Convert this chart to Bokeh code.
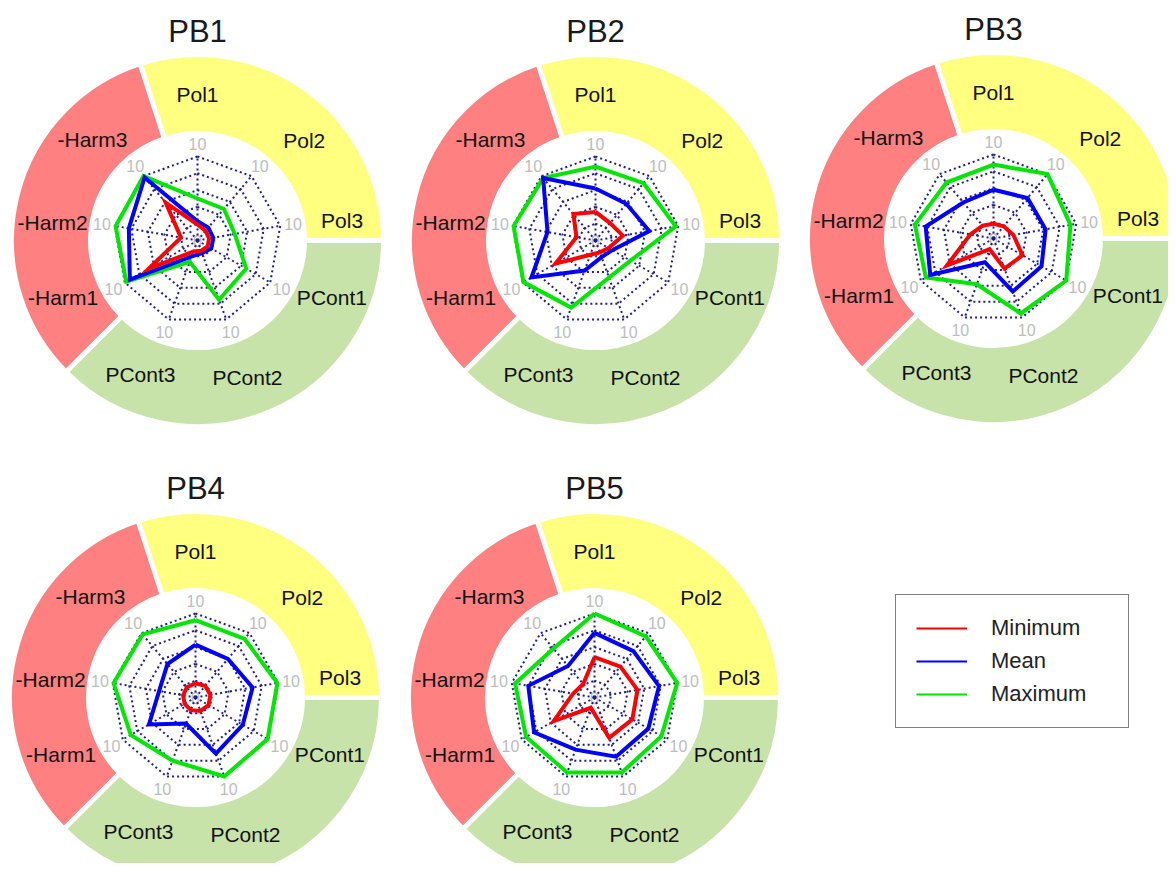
import numpy as np
from bokeh.plotting import figure
from bokeh.models import Range1d, Legend, LegendItem
from bokeh.core.properties import value
from bokeh.embed import file_html
from bokeh.resources import INLINE

# ---------------- data ----------------
categories = ["Pol1", "Pol2", "Pol3", "PCont1", "PCont2", "PCont3",
              "-Harm1", "-Harm2", "-Harm3"]
panel_names = ["PB1", "PB2", "PB3", "PB4", "PB5"]
series_names = ["Minimum", "Mean", "Maximum"]
series_colors = ["#FF0000", "#0000FF", "#00E600"]

group_names = ["Pol", "-Harm", "PCont"]
group_share = [30.0, 32.5, 37.5]          # % of ring, counter-clockwise from 3 o'clock
group_colors = ["#FFFF80", "#FF8080", "#C8E3A9"]

ring_ticks = [2, 4, 6, 8, 10]
axis_max = 10
spoke_label = "10"
center_label = "0"

pb1_min = [1.9, 1.5, 1.4, 1.4, 1.3, 1.4, 6.7, 2.0, 5.9]
pb1_mean = [2.3, 2.0, 1.9, 1.9, 1.6, 2.0, 9.3, 8.3, 9.8]
pb1_max = [5.0, 4.9, 4.5, 6.7, 7.5, 2.7, 9.8, 9.9, 10.0]

pb2_min = [3.4, 2.7, 3.3, 1.8, 1.5, 1.8, 5.5, 2.3, 4.1]
pb2_mean = [6.2, 5.7, 6.5, 2.3, 2.1, 3.8, 8.8, 5.8, 9.7]
pb2_max = [8.8, 8.9, 9.7, 4.8, 4.7, 8.5, 9.9, 9.9, 9.7]

pb3_min = [1.75, 1.9, 2.4, 4.0, 3.8, 1.35, 6.4, 2.8, 2.0]
pb3_mean = [5.8, 6.3, 6.3, 6.6, 6.7, 3.0, 8.7, 8.2, 5.6]
pb3_max = [8.8, 10.0, 9.3, 10.0, 9.5, 5.8, 9.3, 9.5, 8.7]

pb4_min = [1.7, 1.8, 1.8, 1.8, 1.7, 1.6, 1.5, 1.5, 1.6]
pb4_mean = [6.3, 6.0, 6.9, 6.5, 7.1, 3.3, 6.4, 4.4, 5.2]
pb4_max = [9.2, 9.1, 9.9, 9.9, 10.0, 8.0, 8.9, 9.9, 9.8]

pb5_min = [4.8, 4.8, 5.2, 5.2, 5.1, 1.3, 5.6, 2.6, 2.1]
pb5_mean = [7.7, 7.2, 7.8, 7.4, 7.5, 6.6, 8.3, 8.0, 4.9]
pb5_max = [10.0, 9.5, 10.0, 9.2, 9.5, 9.5, 9.4, 9.6, 7.6]

panel_data = {
    "PB1": (pb1_min, pb1_mean, pb1_max),
    "PB2": (pb2_min, pb2_mean, pb2_max),
    "PB3": (pb3_min, pb3_mean, pb3_max),
    "PB4": (pb4_min, pb4_mean, pb4_max),
    "PB5": (pb5_min, pb5_mean, pb5_max),
}

# ---------------- layout (screen pixels of the page) ----------------
W, H = 1168, 863
PAGE_H = 871
panel_centers = {"PB1": (197, 240), "PB2": (595, 240), "PB3": (993, 238),
                 "PB4": (195, 697), "PB5": (594, 697)}
R_IN, R_OUT = 107, 186          # donut radii
R_GRID = 84                     # radius of value 10
R_TICKLBL = 97
R_CATLBL = 146
cat_label_angles = [90, 43, 8, -23, -70, -113, -157, 173, 136]
spoke_angles = [90 - 40 * k for k in range(len(categories))]
FONT = "Liberation Sans"
GRID_COLOR = "#1E1E8A"


def Y(sy):
    return PAGE_H - sy


p = figure(width=W, height=H, x_range=Range1d(0, W), y_range=Range1d(PAGE_H - H, PAGE_H),
           output_backend="svg", toolbar_location=None, min_border=0)
p.axis.visible = False
p.xgrid.visible = False
p.ygrid.visible = False
p.outline_line_color = None
p.background_fill_color = "white"
p.border_fill_color = "white"

theta = np.deg2rad(spoke_angles)

for name in panel_names:
    sx, sy = panel_centers[name]
    cx, cy = sx, Y(sy)

    # donut ring
    edges = np.concatenate([[0.0], np.cumsum(group_share)]) / 100.0 * 2 * np.pi
    p.annular_wedge(x=[cx] * 3, y=[cy] * 3, inner_radius=R_IN, outer_radius=R_OUT,
                    start_angle=list(edges[:-1]), end_angle=list(edges[1:]),
                    fill_color=group_colors, line_color="white", line_width=5)

    # category labels
    la = np.deg2rad(cat_label_angles)
    p.text(x=list(cx + R_CATLBL * np.cos(la)), y=list(cy + R_CATLBL * np.sin(la)),
           text=categories, text_align="center", text_baseline="middle",
           text_font=value(FONT), text_font_size="21px", text_color="#111111")

    # title
    p.text(x=[cx], y=[cy + 209], text=[name], text_align="center",
           text_baseline="middle", text_font=value(FONT), text_font_size="31px",
           text_color="#1a1a1a")

    # axis labels
    p.text(x=list(cx + R_TICKLBL * np.cos(theta)), y=list(cy + R_TICKLBL * np.sin(theta)),
           text=[spoke_label] * len(categories), text_align="center", text_baseline="middle",
           text_font=value(FONT), text_font_size="16px", text_color="#BDBDBD")
    p.text(x=[cx], y=[cy], text=[center_label], text_align="center",
           text_baseline="middle", text_font=value(FONT), text_font_size="16px",
           text_color="#BDBDBD")

    # grid rings and spokes
    xs, ys = [], []
    for t in ring_ticks:
        r = t / axis_max * R_GRID
        xs.append(list(cx + r * np.cos(np.append(theta, theta[0]))))
        ys.append(list(cy + r * np.sin(np.append(theta, theta[0]))))
    p.multi_line(xs=xs, ys=ys, line_color=GRID_COLOR, line_width=2, line_dash="2 3")
    p.segment(x0=[cx] * len(theta), y0=[cy] * len(theta),
              x1=list(cx + R_GRID * np.cos(theta)), y1=list(cy + R_GRID * np.sin(theta)),
              line_color=GRID_COLOR, line_width=2, line_dash="2 3")

    # series (max first, min on top)
    for vals, color in reversed(list(zip(panel_data[name], series_colors))):
        v = np.array(vals + [vals[0]]) / axis_max * R_GRID
        tt = np.append(theta, theta[0])
        p.line(x=list(cx + v * np.cos(tt)), y=list(cy + v * np.sin(tt)),
               line_color=color, line_width=4, line_join="miter")

# legend (thin proxy lines, placed outside the visible range)
proxies = [p.line(x=[-50, -40], y=[-50, -50], line_color=c, line_width=2)
           for c in series_colors]
legend = Legend(items=[LegendItem(label=n, renderers=[r]) for n, r in zip(series_names, proxies)],
                location=(895, H - 728), border_line_color="black", border_line_width=1,
                background_fill_color="white", background_fill_alpha=1.0,
                label_text_font=FONT, label_text_font_size="22px", label_text_color="#222222",
                glyph_width=51, glyph_height=20, label_standoff=24, padding=20,
                spacing=7, label_height=26, label_width=117, margin=0)
p.add_layout(legend)

open("out.html", "w").write(file_html(p, INLINE))
